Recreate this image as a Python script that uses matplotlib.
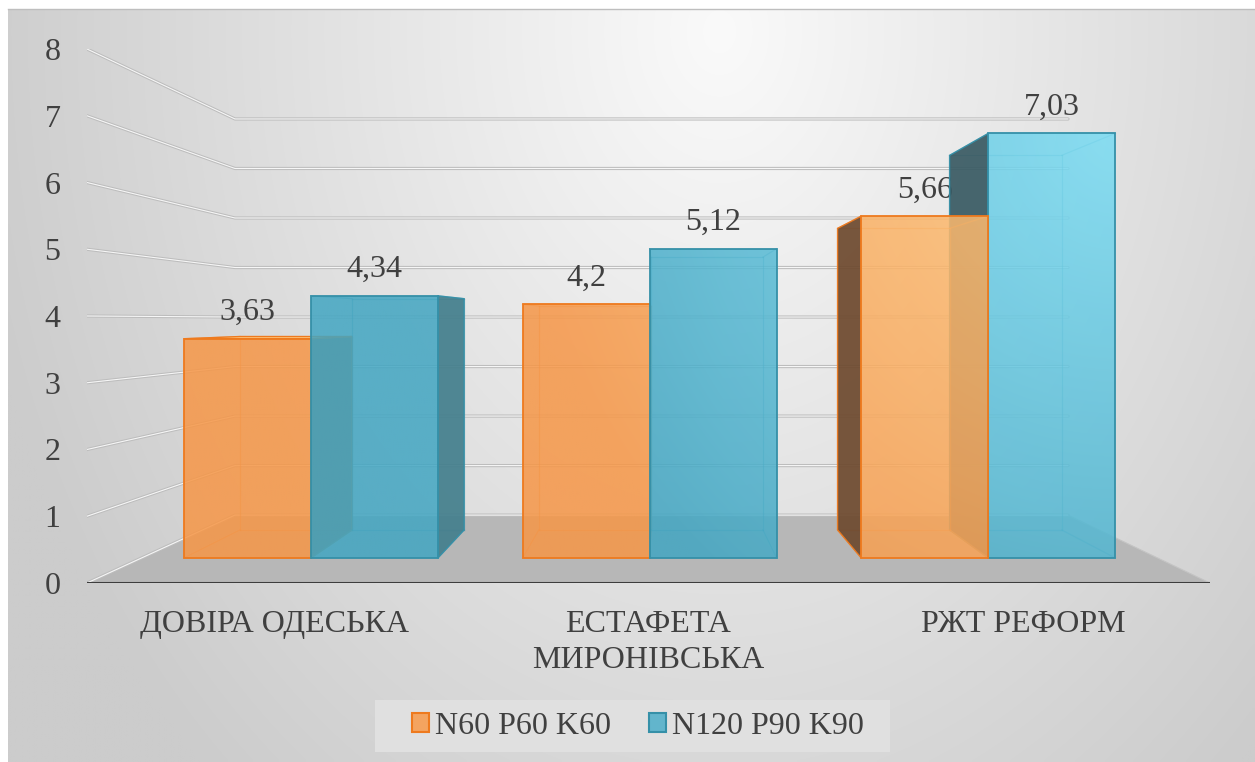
import numpy as np
import matplotlib.pyplot as plt
from matplotlib.patches import Polygon, Rectangle, Patch
from matplotlib.lines import Line2D
from matplotlib.colors import to_rgb

plt.rcParams['font.family'] = ['Liberation Serif', 'DejaVu Serif']

categories = ["ДОВІРА ОДЕСЬКА", "ЕСТАФЕТА\nМИРОНІВСЬКА", "РЖТ РЕФОРМ"]
series_names = ["N60 P60 K60", "N120 P90 K90"]
n60 = [3.63, 4.2, 5.66]
n120 = [4.34, 5.12, 7.03]
yticks = list(range(9))

TEXT = '#404040'
FS = 23
W, H = 1255, 762

# 3-D look: axes data coords are the front plane, depth z runs 0 (front) .. 1 (back wall)
VX, VY = 1.531, 3.94      # vanishing point
PERSP = 0.348             # foreshortening at the back wall
Z0, Z1 = 0.302, 0.727     # bar depth
BAR_W = 0.375

# colours: (dark, light) for the lit front faces, edge, left / right side faces
styles = [
    dict(dark='#F69748', light='#FFC87F', edge='#EE7A1E', left='#6E4A2F', right='#A46A40',
         patch='#F4A460'),
    dict(dark='#43A6C2', light='#7CDDF4', edge='#3590A8', left='#3A5B64', right='#447F8D',
         patch='#62B5CC'),
]


def proj(x, v, z):
    f = 1.0 / (1.0 + PERSP * z)
    return (VX + (x - VX) * f, VY + (v - VY) * f)


fig = plt.figure(figsize=(W / 100, H / 100), dpi=100)
fig.patch.set_facecolor('white')

# chart-area background with a soft radial highlight
bg = fig.add_axes([8 / W, 0, 1 - 8 / W, 1 - 9 / H])
bg.axis('off')
gx = np.linspace(8, W, 320)
gy = np.linspace(9, H, 200)
GX, GY = np.meshgrid(gx, gy)
r = np.hypot((GX - 720) / 760, (GY - 30) / 1000)
val = (250 - 46 * np.clip(r, 0, 1)) / 255
bg.imshow(np.dstack([val, val, val]), extent=(0, 1, 0, 1), aspect='auto',
          interpolation='bilinear')
bg.set_xlim(0, 1)
bg.set_ylim(0, 1)
fig.add_artist(Line2D([8 / W, 1], [1 - 9 / H, 1 - 9 / H], transform=fig.transFigure,
                      color='#BEBEBE', lw=1))

ax = fig.add_axes([87 / W, (H - 583) / H, 1123 / W, 534 / H])
ax.set_facecolor('none')
for s in ax.spines.values():
    s.set_visible(False)

# floor
floor = Polygon([proj(0, 0, 0), proj(3, 0, 0), proj(3, 0, 1), proj(0, 0, 1)],
                closed=True, fc='#B7B7B7', ec='#C4C4C4', lw=0.8, zorder=1)
ax.add_patch(floor)

# gridlines on the side wall and back wall
for v in yticks:
    pts = [proj(0, v, 0), proj(0, v, 1), proj(3, v, 1)]
    xs, ys = zip(*pts)
    ax.plot(xs, ys, color='#BDBDBD', lw=2.3, zorder=1.2, solid_capstyle='round')
    ax.plot(xs, ys, color='#F6F6F6', lw=0.8, zorder=1.3, solid_capstyle='round')

ax.plot([0, 3], [0, 0], color='#3D3D3D', lw=2.2, zorder=1.5)

# lighting for the front faces: brighter towards the upper right
lx = np.linspace(0, 3, 600)
lv = np.linspace(0, 8, 800)
LX, LV = np.meshgrid(lx, lv)
light = np.clip(1 - np.hypot(LX - 2.76, (LV - 6.79) * 0.178) / 1.6, 0, 1)[..., None]


def shade(st):
    d = np.array(to_rgb(st['dark']))
    l = np.array(to_rgb(st['light']))
    rgb = d + (l - d) * light
    return np.dstack([rgb, np.full(light.shape, 0.86)])


shades = [shade(st) for st in styles]


def face(pts, zorder, **kw):
    p = Polygon(pts, closed=True, zorder=zorder, **kw)
    ax.add_patch(p)
    return p


def draw_bar(x0, x1, v, k, zo):
    st = styles[k]
    fl0, fr0, fr1, fl1 = proj(x0, 0, Z0), proj(x1, 0, Z0), proj(x1, v, Z0), proj(x0, v, Z0)
    bl0, br0, br1, bl1 = proj(x0, 0, Z1), proj(x1, 0, Z1), proj(x1, v, Z1), proj(x0, v, Z1)

    # edges behind the translucent front face
    for a, b in [(bl0, br0), (br0, br1), (br1, bl1), (bl1, bl0),
                 (fl0, bl0), (fr0, br0), (fl1, bl1), (fr1, br1)]:
        ax.plot([a[0], b[0]], [a[1], b[1]], color=st['edge'], lw=0.9, alpha=0.45,
                zorder=zo)

    if x0 > VX:
        face([fl0, bl0, bl1, fl1], zo + 0.1, fc=st['left'], ec=st['edge'], lw=1.0,
             alpha=0.93)
    if x1 < VX:
        face([fr0, br0, br1, fr1], zo + 0.1, fc=st['right'], ec=st['edge'], lw=1.0,
             alpha=0.93)
    if v < VY:
        face([fl1, fr1, br1, bl1], zo + 0.2, fc=st['light'], ec=st['edge'], lw=1.0)

    front = face([fl0, fr0, fr1, fl1], zo + 0.3, fc='none', ec='none')
    im = ax.imshow(shades[k], extent=(0, 3, 0, 8), origin='lower', aspect='auto',
                   interpolation='bilinear', zorder=zo + 0.3)
    im.set_clip_path(front)
    face([fl0, fr0, fr1, fl1], zo + 0.4, fc='none', ec=st['edge'], lw=1.3)


zo = 3
for i, (a, b) in enumerate(zip(n60, n120)):
    c = i + 0.5
    bars = [(c - BAR_W, c, a, 0), (c, c + BAR_W, b, 1)]
    # bars further from the vanishing point are painted first
    bars.sort(key=lambda t: -abs((t[0] + t[1]) / 2 - VX))
    for x0, x1, v, k in bars:
        draw_bar(x0, x1, v, k, zo)
        zo += 1
        ax.annotate(f"{v:g}".replace('.', ','), xy=proj((x0 + x1) / 2, v, Z0),
                    xytext=(0, 13.5), textcoords='offset points', ha='center',
                    va='baseline', fontsize=FS, color=TEXT, zorder=2)

ax.set_xlim(0, 3)
ax.set_ylim(0, 8)
ax.set_yticks(yticks)
ax.set_yticklabels([str(t) for t in yticks])
ax.set_xticks([i + 0.5 for i in range(len(categories))])
ax.set_xticklabels(categories, linespacing=1.3)
ax.tick_params(axis='y', length=0, pad=19, labelsize=FS, labelcolor=TEXT)
ax.tick_params(axis='x', length=0, pad=19.5, labelsize=FS, labelcolor=TEXT)

# legend
fig.add_artist(Rectangle((375 / W, 1 - 752 / H), 515 / W, 52 / H,
                         transform=fig.transFigure, fc='#E0E0E0', ec='none', zorder=1))
handles = [Patch(fc=st['patch'], ec=st['edge'], lw=1.5) for st in styles]
fig.legend(handles, series_names, loc='center', bbox_to_anchor=(638 / W, 1 - 726 / H),
           ncol=2, frameon=False, fontsize=FS, handlelength=0.53, handleheight=0.53,
           handletextpad=0.19, columnspacing=1.19, labelcolor=TEXT)

fig.savefig('out.png', dpi=100)
